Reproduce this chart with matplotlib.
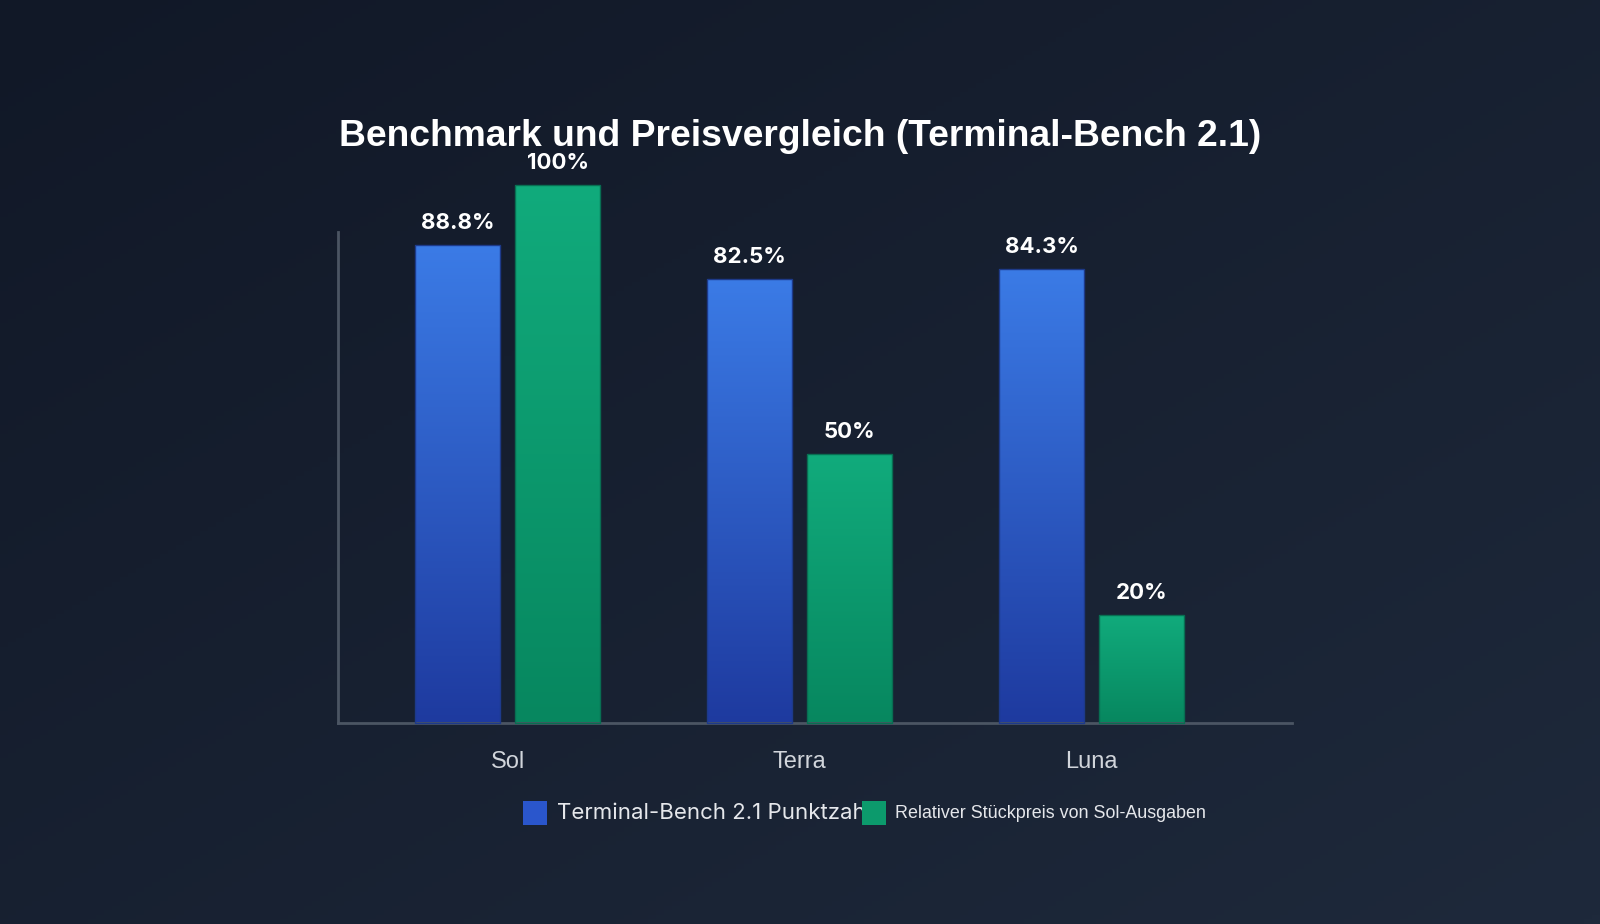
import numpy as np
import matplotlib.pyplot as plt
from matplotlib.colors import LinearSegmentedColormap
from matplotlib.patches import Rectangle

categories = ['Sol', 'Terra', 'Luna']
bench_scores = [88.8, 82.5, 84.3]
price_rel = [100, 50, 20]
bench_labels = ['88.8%', '82.5%', '84.3%']
price_labels = ['100%', '50%', '20%']
legend_names = ['Terminal-Bench 2.1 Punktzahl', 'Relativer Stückpreis von Sol-Ausgaben']

plt.rcParams['font.family'] = ['Liberation Sans', 'DejaVu Sans']

fig = plt.figure(figsize=(16, 9.24), dpi=100)

# background gradient, dark top-left to lighter bottom-right
bg = fig.add_axes([0, 0, 1, 1], zorder=-10)
bg_cmap = LinearSegmentedColormap.from_list('bg', ['#111827', '#1e293b'])
xx, yy = np.meshgrid(np.linspace(0, 1, 200), np.linspace(0, 1, 200))
bg.imshow((xx + yy) / 2, cmap=bg_cmap, aspect='auto', extent=[0, 1, 0, 1], origin='upper')
bg.axis('off')

W, H = 1600, 924
ax_left, ax_right, ax_bottom, ax_top = 338, 1292, 723, 185
ax = fig.add_axes([ax_left / W, 1 - ax_bottom / H, (ax_right - ax_left) / W, (ax_bottom - ax_top) / H])
ax.patch.set_alpha(0)

x = np.arange(len(categories))
width = 0.29
offset = 0.171
blue_cmap = LinearSegmentedColormap.from_list('blue', ['#1e3a9f', '#3b7be6'])
green_cmap = LinearSegmentedColormap.from_list('green', ['#07875f', '#11ab7c'])
grad = np.linspace(0, 1, 256).reshape(-1, 1)

def gradient_bars(xpos, vals, cmap, edge):
    bars = ax.bar(xpos, vals, width, color='none', edgecolor=edge, linewidth=1, clip_on=False, zorder=3)
    for b in bars:
        bx, by = b.get_x(), b.get_y()
        bw, bh = b.get_width(), b.get_height()
        ax.imshow(grad, cmap=cmap, aspect='auto', origin='lower',
                  extent=[bx, bx + bw, by, by + bh], zorder=2, clip_on=False)
    return bars

gradient_bars(x - offset, bench_scores, blue_cmap, '#1d3a8a')
gradient_bars(x + offset, price_rel, green_cmap, '#086e52')

for xi, v, lab in zip(x - offset, bench_scores, bench_labels):
    ax.text(xi, v + 2.3, lab, ha='center', va='bottom', color='white', fontsize=16,
            fontweight='bold', family=['Inter', 'DejaVu Sans'])
for xi, v, lab in zip(x + offset, price_rel, price_labels):
    ax.text(xi, v + 2.3, lab, ha='center', va='bottom', color='white', fontsize=16,
            fontweight='bold', family=['Inter', 'DejaVu Sans'])

ax.set_xlim(-0.581, 2.686)
ax.set_ylim(0, 100)
ax.set_xticks(x)
ax.set_xticklabels(categories, color='#d1d5db', fontsize=17)
ax.tick_params(axis='x', length=0, pad=20)
ax.set_yticks([])
for s in ['top', 'right']:
    ax.spines[s].set_visible(False)
ax.spines['left'].set_bounds(0, 91.3)
for s in ['left', 'bottom']:
    ax.spines[s].set_color('#4b5563')
    ax.spines[s].set_linewidth(2)

fig.text(0.5, 1 - 137 / H, 'Benchmark und Preisvergleich (Terminal-Bench 2.1)', ha='center', va='center',
         color='white', fontsize=26.8, fontweight='bold')

# legend, drawn by hand so the green swatch sits over the end of the first label
fig.text(557 / W, 1 - 813 / H, legend_names[0], ha='left', va='center', color='#e5e7eb', fontsize=16,
         family=['Inter', 'DejaVu Sans'], zorder=3)
fig.patches.append(Rectangle((523 / W, 1 - 825 / H), 24 / W, 24 / H, transform=fig.transFigure,
                             facecolor='#2a56cc', edgecolor='none', zorder=5))
fig.patches.append(Rectangle((862 / W, 1 - 825 / H), 24 / W, 24 / H, transform=fig.transFigure,
                             facecolor='#0c9a6c', edgecolor='none', zorder=5))
fig.text(895 / W, 1 - 813 / H, legend_names[1], ha='left', va='center', color='#e5e7eb', fontsize=12.9,
         zorder=6)

fig.savefig('out.png', dpi=100)
